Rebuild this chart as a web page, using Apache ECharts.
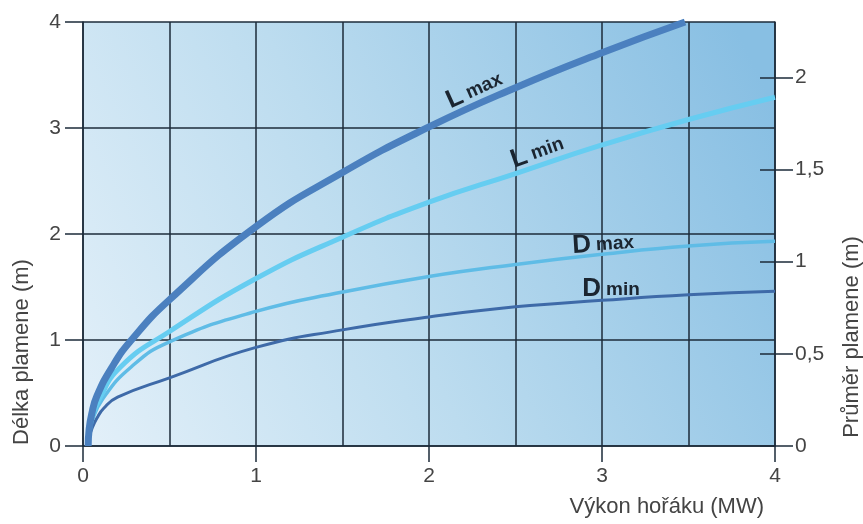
<!DOCTYPE html>
<html>
<head>
<meta charset="utf-8">
<script src="https://cdn.jsdelivr.net/npm/echarts@6/dist/echarts.min.js"></script>
<style>
html,body{margin:0;padding:0;background:#fff;}
#c{width:863px;height:524px;}
</style>
</head>
<body>
<div id="c"></div>
<script>
// Burner output (MW) and flame length (m, left axis) / flame diameter (m, right axis)
const lmaxX = [0.03, 0.035, 0.05, 0.08, 0.17, 0.28, 0.5, 1, 1.5, 2, 2.5, 3, 3.48];
const lmaxY = [0, 0.15, 0.3, 0.47, 0.75, 1.0, 1.38, 2.07, 2.58, 3.01, 3.38, 3.71, 4.0];

const lminX = [0.03, 0.035, 0.05, 0.09, 0.22, 0.5, 1, 1.5, 2, 2.5, 3, 3.5, 4];
const lminY = [0, 0.12, 0.25, 0.43, 0.75, 1.08, 1.58, 1.97, 2.30, 2.57, 2.84, 3.08, 3.29];

const dmaxX = [0.03, 0.035, 0.05, 0.11, 0.28, 0.5, 1, 1.5, 2, 2.5, 3, 3.5, 4];
const dmaxY = [0, 0.058, 0.127, 0.25, 0.43, 0.565, 0.73, 0.835, 0.92, 0.985, 1.04, 1.085, 1.11];

const dminX = [0.03, 0.035, 0.05, 0.08, 0.12, 0.2, 0.5, 1, 1.5, 2, 2.5, 3, 3.5, 4];
const dminY = [0, 0.045, 0.09, 0.15, 0.205, 0.265, 0.37, 0.535, 0.63, 0.70, 0.755, 0.79, 0.82, 0.84];

const xTicks = [0, 1, 2, 3, 4];
const leftTicks = [0, 1, 2, 3, 4];
const rightTicks = [0, 0.5, 1, 1.5, 2];

const xName = 'Výkon hořáku (MW)';
const leftName = 'Délka plamene (m)';
const rightName = 'Průměr plamene (m)';

function pairs(xs, ys) { return xs.map((x, i) => [x, ys[i]]); }

const FONT = '"Liberation Sans", Arial, sans-serif';
const TXT = '#444';
const GRID = '#1c2b3a';
const LBL = '#1b2530';

const chart = echarts.init(document.getElementById('c'), null, {renderer: 'canvas'});

const lineStyleGrid = {color: GRID, width: 1.5};

function tag(big, small) {
  return {
    text: '{a|' + big + '}{b|' + small + '}', align: 'center', verticalAlign: 'middle',
    rich: {
      a: {fontSize: 26, fontWeight: 'bold', fontFamily: FONT, fill: LBL, verticalAlign: 'bottom', lineHeight: 28, padding: [0, 5, 0, 0]},
      b: {fontSize: 19, fontWeight: 'bold', fontFamily: FONT, fill: LBL, verticalAlign: 'bottom', lineHeight: 28, padding: [0, 0, 3, 0]}
    }
  };
}

chart.setOption({
  animation: false,
  backgroundColor: '#fff',
  grid: {
    left: 83, right: 88, top: 22, bottom: 78,
    show: true, borderWidth: 0,
    backgroundColor: new echarts.graphic.LinearGradient(0, 1, 1, 0.2, [
      {offset: 0, color: '#e3f0f9'},
      {offset: 0.45, color: '#bcdcef'},
      {offset: 1, color: '#88bfe3'}
    ])
  },
  xAxis: {
    type: 'value', min: 0, max: 4, interval: 1,
    axisLine: {show: true, lineStyle: lineStyleGrid},
    axisTick: {show: true, length: 16, lineStyle: lineStyleGrid, customValues: xTicks},
    axisLabel: {fontSize: 21, fontFamily: FONT, color: TXT, margin: 20, customValues: xTicks},
    splitLine: {show: true, lineStyle: lineStyleGrid},
    minorTick: {show: false, splitNumber: 2},
    minorSplitLine: {show: true, lineStyle: lineStyleGrid}
  },
  yAxis: [
    {
      type: 'value', min: 0, max: 4, interval: 1, position: 'left',
      axisLine: {show: true, lineStyle: lineStyleGrid},
      axisTick: {show: true, length: 18, lineStyle: lineStyleGrid, customValues: leftTicks},
      axisLabel: {fontSize: 21, fontFamily: FONT, color: TXT, margin: 22, customValues: leftTicks},
      splitLine: {show: true, lineStyle: lineStyleGrid}
    },
    {
      type: 'value', min: 0, max: 2.3, position: 'right',
      axisLine: {show: true, lineStyle: lineStyleGrid},
      axisTick: {show: true, length: 18, lineStyle: lineStyleGrid, customValues: rightTicks},
      axisLabel: {
        fontSize: 21, fontFamily: FONT, color: TXT, margin: 20, customValues: rightTicks,
        formatter: v => String(v).replace('.', ',')
      },
      splitLine: {show: false}
    },
    {
      type: 'value', min: 0, max: 2.3, position: 'right',
      axisLine: {show: false},
      axisTick: {show: true, inside: true, length: 15, lineStyle: lineStyleGrid, customValues: rightTicks},
      axisLabel: {show: false},
      splitLine: {show: false}
    }
  ],
  series: [
    {
      name: 'L max', type: 'line', yAxisIndex: 0, data: pairs(lmaxX, lmaxY),
      smooth: 0.5, showSymbol: false,
      lineStyle: {color: '#4b80bf', width: 7}, z: 5
    },
    {
      name: 'L min', type: 'line', yAxisIndex: 0, data: pairs(lminX, lminY),
      smooth: 0.5, showSymbol: false,
      lineStyle: {color: '#66cdf1', width: 5}, z: 4
    },
    {
      name: 'D max', type: 'line', yAxisIndex: 1, data: pairs(dmaxX, dmaxY),
      smooth: 0.5, showSymbol: false,
      lineStyle: {color: '#5fbce6', width: 3.5}, z: 3
    },
    {
      name: 'D min', type: 'line', yAxisIndex: 1, data: pairs(dminX, dminY),
      smooth: 0.5, showSymbol: false,
      lineStyle: {color: '#3e6aa8', width: 3}, z: 3
    }
  ],
  graphic: [
    {
      type: 'text', x: 22, y: 352, rotation: Math.PI / 2,
      style: {text: leftName, font: '22px ' + FONT, fill: TXT, align: 'center', verticalAlign: 'middle'}
    },
    {
      type: 'text', x: 852, y: 337, rotation: Math.PI / 2,
      style: {text: rightName, font: '22px ' + FONT, fill: TXT, align: 'center', verticalAlign: 'middle'}
    },
    {
      type: 'text', x: 764, y: 507,
      style: {text: xName, font: '22px ' + FONT, fill: TXT, align: 'right', verticalAlign: 'middle'}
    },
    {type: 'text', x: 474, y: 89, rotation: 0.42, style: tag('L', 'max')},
    {type: 'text', x: 537, y: 151, rotation: 0.34, style: tag('L', 'min')},
    {type: 'text', x: 603, y: 243, rotation: 0.06, style: tag('D', 'max')},
    {type: 'text', x: 611, y: 288, rotation: 0, style: tag('D', 'min')}
  ]
});
</script>
</body>
</html>
